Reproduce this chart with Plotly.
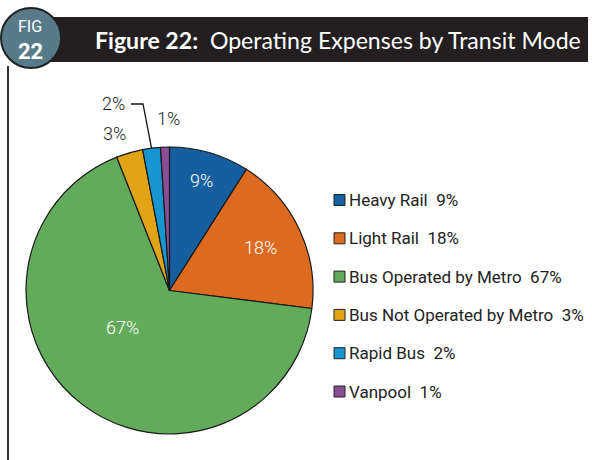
import math
import plotly.graph_objects as go

# ---- data ----
modes = ["Heavy Rail", "Light Rail", "Bus Operated by Metro",
         "Bus Not Operated by Metro", "Rapid Bus", "Vanpool"]
shares = [9, 18, 67, 3, 2, 1]
colors = ["#155f9f", "#dc6a1f", "#62ab5b", "#e1a417", "#1795d1", "#8a4e97"]

W, H = 592, 460


def px(x):
    return x / W


def py(y):
    return 1 - y / H


# pie geometry (pixels)
CX, CY, R = 169.5, 290.5, 143.5

fig = go.Figure()
fig.add_trace(go.Pie(
    labels=modes, values=shares, sort=False, direction="clockwise", rotation=0,
    marker=dict(colors=colors, line=dict(color="#1a1a1a", width=1.2)),
    textinfo="none", hoverinfo="skip", showlegend=False,
    domain=dict(x=[px(CX - R), px(CX + R)], y=[py(CY + R), py(CY - R)]),
))

total = sum(shares)
cum = 0
mids = []
for v in shares:
    mids.append((cum + v / 2) / total * 2 * math.pi)
    cum += v

ann = []
shapes = []

# inside labels (white), positioned along each slice's mid-angle
inside = {0: (0.80, 0), 1: (0.70, 0), 2: (0.42, 0.24)}
for i, (k, dang) in inside.items():
    a = mids[i] + dang
    x = CX + R * k * math.sin(a)
    y = CY - R * k * math.cos(a)
    ann.append(dict(x=px(x), y=py(y), xref="paper", yref="paper",
                    text=f"{shares[i]}%", showarrow=False,
                    font=dict(family="Roboto", size=18, color="white", weight=300),
                    xanchor="center", yanchor="middle"))

# outside labels
outside = {3: (115, 133), 4: (113, 103), 5: (168, 119)}
for i, (x, y) in outside.items():
    ann.append(dict(x=px(x), y=py(y), xref="paper", yref="paper",
                    text=f"{shares[i]}%", showarrow=False,
                    font=dict(family="Roboto", size=18, color="#222", weight=300),
                    xanchor="center", yanchor="middle"))

# leader line for Rapid Bus
ex = CX + R * math.sin(mids[4])
ey = CY - R * math.cos(mids[4])
shapes.append(dict(type="path", xref="paper", yref="paper",
                   path=f"M {px(131)},{py(104)} L {px(143)},{py(104)} L {px(ex)},{py(ey)}",
                   line=dict(color="#111", width=1.3)))

# legend (manual)
leg_y0, leg_dy = 200, 38.3
for i, (m, v, c) in enumerate(zip(modes, shares, colors)):
    yc = leg_y0 + i * leg_dy
    shapes.append(dict(type="rect", xref="paper", yref="paper",
                       x0=px(334), x1=px(345), y0=py(yc + 5.5), y1=py(yc - 5.5),
                       fillcolor=c, line=dict(color="#222", width=1)))
    ann.append(dict(x=px(347), y=py(yc), xref="paper", yref="paper",
                    text=f"{m}&nbsp;&nbsp;{v}%", showarrow=False,
                    font=dict(family="Roboto", size=17, color="#222"),
                    xanchor="left", yanchor="middle"))

# header bar
shapes.append(dict(type="rect", xref="paper", yref="paper",
                   x0=px(45), x1=px(588), y0=py(62), y1=py(17),
                   fillcolor="#231f20", line=dict(width=0), layer="below"))
# vertical rule
shapes.append(dict(type="line", xref="paper", yref="paper",
                   x0=px(8), x1=px(8), y0=py(66), y1=py(460),
                   line=dict(color="#333", width=2)))
# badge circle
shapes.append(dict(type="circle", xref="paper", yref="paper",
                   x0=px(1), x1=px(61), y0=py(68), y1=py(8),
                   fillcolor="#587b8a", line=dict(color="#222", width=2)))

ann.append(dict(x=px(30), y=py(26), xref="paper", yref="paper", text="FIG",
                showarrow=False, font=dict(family="Roboto", size=16, color="white"),
                xanchor="center", yanchor="middle"))
ann.append(dict(x=px(30.5), y=py(51), xref="paper", yref="paper", text="<b>22</b>",
                showarrow=False, font=dict(family="Roboto", size=22, color="white"),
                xanchor="center", yanchor="middle"))
ann.append(dict(x=px(93), y=py(40), xref="paper", yref="paper",
                text="<b>Figure 22:</b>&nbsp;&nbsp;Operating Expenses by Transit Mode",
                showarrow=False, font=dict(family="Lato", size=23.1, color="white"),
                xanchor="left", yanchor="middle"))

fig.update_layout(
    width=W, height=H, margin=dict(l=0, r=0, t=0, b=0),
    paper_bgcolor="white", plot_bgcolor="white",
    annotations=ann, shapes=shapes, showlegend=False,
)
fig.write_html("out.html", config={"displayModeBar": False},
               post_script="document.body.style.margin='0';document.body.style.overflow='hidden';")
